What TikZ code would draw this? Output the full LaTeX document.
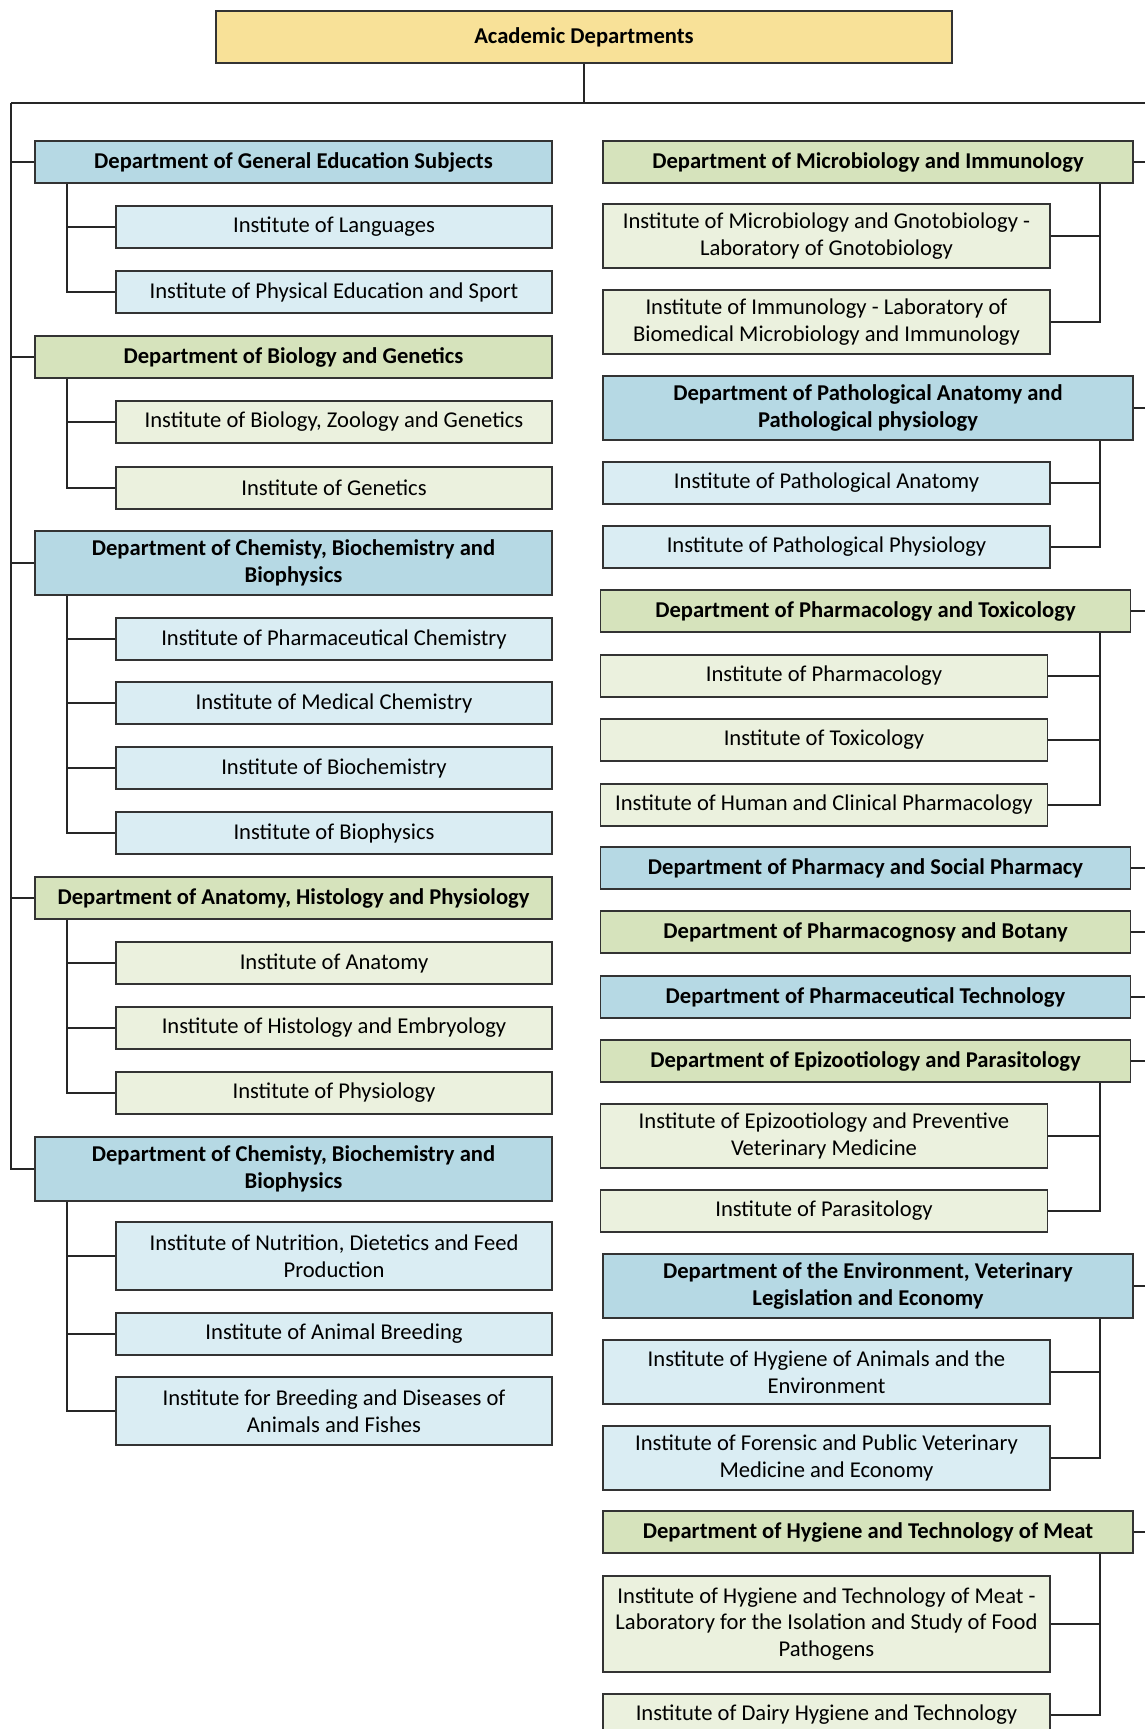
\documentclass[tikz,border=0pt]{standalone}
\usepackage{fontspec}
\setmainfont{Carlito}
\definecolor{topYellow}{RGB}{248,225,152}
\definecolor{deptBlue}{RGB}{182,217,228}
\definecolor{instBlue}{RGB}{218,237,243}
\definecolor{deptGreen}{RGB}{214,227,188}
\definecolor{instGreen}{RGB}{235,241,222}
\begin{document}
\begin{tikzpicture}[x=1pt, y=-1pt, font=\fontsize{22.6}{26.5}\selectfont]
	\tikzstyle{boxStyle}=[draw=black!80, line width=1.1pt, align=center, inner sep=0pt, minimum height=42]
	\tikzstyle{boldStyle}=[boxStyle, font=\fontsize{22.6}{26.5}\selectfont\bfseries]
	\tikzstyle{topStyle}=[boldStyle, fill=topYellow, minimum width=736, minimum height=52]
	\tikzstyle{deptBlueStyle}=[boldStyle, fill=deptBlue]
	\tikzstyle{deptGreenStyle}=[boldStyle, fill=deptGreen]
	\tikzstyle{instBlueStyle}=[boxStyle, fill=instBlue]
	\tikzstyle{instGreenStyle}=[boxStyle, fill=instGreen]
	\tikzstyle{leftDept}=[minimum width=517]
	\tikzstyle{leftInst}=[minimum width=436]
	\tikzstyle{rightDept}=[minimum width=530]
	\tikzstyle{rightInst}=[minimum width=447]
	\tikzstyle{twoLine}=[minimum height=64]
	\tikzstyle{threeLine}=[minimum height=96]
	\tikzstyle{linkStyle}=[draw=black!85, line width=1.1pt]
	\clip (0,0) rectangle (1145,1729);
	\fill[white] (0,0) rectangle (1145,1729);
	\node[topStyle] (top) at (584,37) {Academic Departments};
	\coordinate (spineL) at (11,103);
	\coordinate (spineR) at (1160,103);
	\coordinate (subL) at (67,0);
	\coordinate (subR) at (1100,0);
	% left column
	\node[deptBlueStyle, leftDept] (gened) at (293.5,162) {Department of General Education Subjects};
	\node[instBlueStyle, leftInst] (lang) at (334,227) {Institute of Languages};
	\node[instBlueStyle, leftInst] (physed) at (334,292) {Institute of Physical Education and Sport};
	\node[deptGreenStyle, leftDept] (bio) at (293.5,357) {Department of Biology and Genetics};
	\node[instGreenStyle, leftInst] (biozoo) at (334,422) {Institute of Biology, Zoology and Genetics};
	\node[instGreenStyle, leftInst] (genet) at (334,488) {Institute of Genetics};
	\node[deptBlueStyle, leftDept, twoLine] (chemA) at (293.5,563) {Department of Chemisty, Biochemistry and\\Biophysics};
	\node[instBlueStyle, leftInst] (pharmchem) at (334,639) {Institute of Pharmaceutical Chemistry};
	\node[instBlueStyle, leftInst] (medchem) at (334,703) {Institute of Medical Chemistry};
	\node[instBlueStyle, leftInst] (biochem) at (334,768) {Institute of Biochemistry};
	\node[instBlueStyle, leftInst] (biophys) at (334,833) {Institute of Biophysics};
	\node[deptGreenStyle, leftDept] (anatomy) at (293.5,898) {Department of Anatomy, Histology and Physiology};
	\node[instGreenStyle, leftInst] (anat) at (334,963) {Institute of Anatomy};
	\node[instGreenStyle, leftInst] (histo) at (334,1028) {Institute of Histology and Embryology};
	\node[instGreenStyle, leftInst] (physio) at (334,1093) {Institute of Physiology};
	\node[deptBlueStyle, leftDept, twoLine] (chemB) at (293.5,1169) {Department of Chemisty, Biochemistry and\\Biophysics};
	\node[instBlueStyle, leftInst, minimum height=68] (nutri) at (334,1256) {Institute of Nutrition, Dietetics and Feed\\Production};
	\node[instBlueStyle, leftInst] (breed) at (334,1334) {Institute of Animal Breeding};
	\node[instBlueStyle, leftInst, minimum height=68] (disease) at (334,1411) {Institute for Breeding and Diseases of\\Animals and Fishes};
	% right column
	\node[deptGreenStyle, rightDept] (micro) at (868,162) {Department of Microbiology and Immunology};
	\node[instGreenStyle, rightInst, twoLine] (gnoto) at (826.5,236) {Institute of Microbiology and Gnotobiology -\\Laboratory of Gnotobiology};
	\node[instGreenStyle, rightInst, twoLine] (immuno) at (826.5,322) {Institute of Immunology - Laboratory of\\Biomedical Microbiology and Immunology};
	\node[deptBlueStyle, rightDept, twoLine] (patho) at (868,408) {Department of Pathological Anatomy and\\Pathological physiology};
	\node[instBlueStyle, rightInst] (pathanat) at (826.5,483) {Institute of Pathological Anatomy};
	\node[instBlueStyle, rightInst] (pathphys) at (826.5,547) {Institute of Pathological Physiology};
	\node[deptGreenStyle, rightDept] (pharmacol) at (865.5,611) {Department of Pharmacology and Toxicology};
	\node[instGreenStyle, rightInst] (instpharm) at (824,676) {Institute of Pharmacology};
	\node[instGreenStyle, rightInst] (toxic) at (824,740) {Institute of Toxicology};
	\node[instGreenStyle, rightInst] (clinic) at (824,805) {Institute of Human and Clinical Pharmacology};
	\node[deptBlueStyle, rightDept] (pharmacy) at (865.5,868) {Department of Pharmacy and Social Pharmacy};
	\node[deptGreenStyle, rightDept] (botany) at (865.5,932) {Department of Pharmacognosy and Botany};
	\node[deptBlueStyle, rightDept] (pharmtech) at (865.5,997) {Department of Pharmaceutical Technology};
	\node[deptGreenStyle, rightDept] (epizoot) at (865.5,1061) {Department of Epizootiology and Parasitology};
	\node[instGreenStyle, rightInst, twoLine] (prevent) at (824,1136) {Institute of Epizootiology and Preventive\\Veterinary Medicine};
	\node[instGreenStyle, rightInst] (parasit) at (824,1211) {Institute of Parasitology};
	\node[deptBlueStyle, rightDept, twoLine] (environ) at (868,1286) {Department of the Environment, Veterinary\\Legislation and Economy};
	\node[instBlueStyle, rightInst, twoLine] (hygien) at (826.5,1372) {Institute of Hygiene of Animals and the\\Environment};
	\node[instBlueStyle, rightInst, twoLine] (forensic) at (826.5,1458) {Institute of Forensic and Public Veterinary\\Medicine and Economy};
	\node[deptGreenStyle, rightDept] (meat) at (868,1532) {Department of Hygiene and Technology of Meat};
	\node[instGreenStyle, rightInst, threeLine] (meatlab) at (826.5,1624) {Institute of Hygiene and Technology of Meat -\\Laboratory for the Isolation and Study of Food\\Pathogens};
	\node[instGreenStyle, rightInst] (dairy) at (826.5,1715) {Institute of Dairy Hygiene and Technology};
	% main connectors
	\draw[linkStyle] (top) -- (top |- spineL);
	\draw[linkStyle] (spineL) -- (spineR);
	\draw[linkStyle] (spineL) |- (chemB.west);
	\foreach \d in {gened, bio, chemA, anatomy}
		\draw[linkStyle] (\d.west) -- (\d.west -| spineL);
	\foreach \d in {micro, patho, pharmacol, pharmacy, botany, pharmtech, epizoot, environ, meat}
		\draw[linkStyle] (\d.east) -- (\d.east -| spineR);
	% left sub connectors
	\draw[linkStyle] (gened.south -| subL) |- (physed.west);
	\draw[linkStyle] (lang.west) -- (lang.west -| subL);
	\draw[linkStyle] (bio.south -| subL) |- (genet.west);
	\draw[linkStyle] (biozoo.west) -- (biozoo.west -| subL);
	\draw[linkStyle] (chemA.south -| subL) |- (biophys.west);
	\foreach \i in {pharmchem, medchem, biochem}
		\draw[linkStyle] (\i.west) -- (\i.west -| subL);
	\draw[linkStyle] (anatomy.south -| subL) |- (physio.west);
	\foreach \i in {anat, histo}
		\draw[linkStyle] (\i.west) -- (\i.west -| subL);
	\draw[linkStyle] (chemB.south -| subL) |- (disease.west);
	\foreach \i in {nutri, breed}
		\draw[linkStyle] (\i.west) -- (\i.west -| subL);
	% right sub connectors
	\draw[linkStyle] (micro.south -| subR) |- (immuno.east);
	\draw[linkStyle] (gnoto.east) -- (gnoto.east -| subR);
	\draw[linkStyle] (patho.south -| subR) |- (pathphys.east);
	\draw[linkStyle] (pathanat.east) -- (pathanat.east -| subR);
	\draw[linkStyle] (pharmacol.south -| subR) |- (clinic.east);
	\foreach \i in {instpharm, toxic}
		\draw[linkStyle] (\i.east) -- (\i.east -| subR);
	\draw[linkStyle] (epizoot.south -| subR) |- (parasit.east);
	\draw[linkStyle] (prevent.east) -- (prevent.east -| subR);
	\draw[linkStyle] (environ.south -| subR) |- (forensic.east);
	\draw[linkStyle] (hygien.east) -- (hygien.east -| subR);
	\draw[linkStyle] (meat.south -| subR) |- (dairy.east);
	\draw[linkStyle] (meatlab.east) -- (meatlab.east -| subR);
\end{tikzpicture}
\end{document}
